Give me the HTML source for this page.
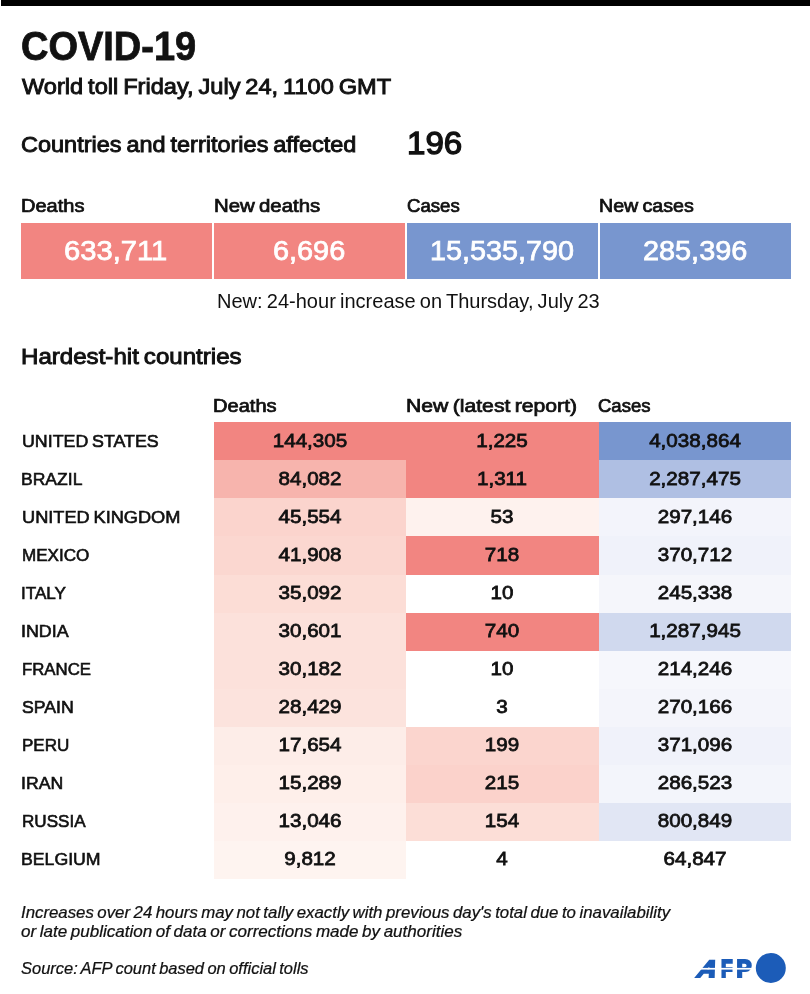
<!DOCTYPE html>
<html lang="en"><head><meta charset="utf-8"><title>COVID-19 World toll</title>
<style>
html,body{margin:0;padding:0;background:#fff}
body{width:810px;height:994px;position:relative;overflow:hidden;font-family:"Liberation Sans",sans-serif}
.t{position:absolute;white-space:nowrap;transform-origin:0 0;margin:0;padding:0}
.c{transform-origin:50% 0}
.b{position:absolute}
</style></head><body>
<div class="b" style="left:1px;top:0;width:809px;height:5.9px;background:#000"></div>
<div class="b" style="left:21.2px;top:223px;width:190.8px;height:55.5px;background:#f28581"></div>
<div class="b" style="left:214.1px;top:223px;width:190.5px;height:55.5px;background:#f28581"></div>
<div class="b" style="left:406.9px;top:223px;width:190.7px;height:55.5px;background:#7896cf"></div>
<div class="b" style="left:599.7px;top:223px;width:191.5px;height:55.5px;background:#7896cf"></div>
<div class="b" style="left:213.6px;top:422.40px;width:192.4px;height:38.08px;background:#f28581"></div>
<div class="b" style="left:406.0px;top:422.40px;width:192.5px;height:38.08px;background:#f28581"></div>
<div class="b" style="left:598.5px;top:422.40px;width:192.7px;height:38.08px;background:#7896cf"></div>
<div class="b" style="left:213.6px;top:460.43px;width:192.4px;height:38.08px;background:#f7b4ad"></div>
<div class="b" style="left:406.0px;top:460.43px;width:192.5px;height:38.08px;background:#f28581"></div>
<div class="b" style="left:598.5px;top:460.43px;width:192.7px;height:38.08px;background:#afbfe3"></div>
<div class="b" style="left:213.6px;top:498.46px;width:192.4px;height:38.08px;background:#fbd4cd"></div>
<div class="b" style="left:406.0px;top:498.46px;width:192.5px;height:38.08px;background:#fef2ee"></div>
<div class="b" style="left:598.5px;top:498.46px;width:192.7px;height:38.08px;background:#f3f4fb"></div>
<div class="b" style="left:213.6px;top:536.49px;width:192.4px;height:38.08px;background:#fbd7d0"></div>
<div class="b" style="left:406.0px;top:536.49px;width:192.5px;height:38.08px;background:#f28581"></div>
<div class="b" style="left:598.5px;top:536.49px;width:192.7px;height:38.08px;background:#f0f2fa"></div>
<div class="b" style="left:213.6px;top:574.52px;width:192.4px;height:38.08px;background:#fcddd6"></div>
<div class="b" style="left:598.5px;top:574.52px;width:192.7px;height:38.08px;background:#f5f6fb"></div>
<div class="b" style="left:213.6px;top:612.55px;width:192.4px;height:38.08px;background:#fce1db"></div>
<div class="b" style="left:406.0px;top:612.55px;width:192.5px;height:38.08px;background:#f28581"></div>
<div class="b" style="left:598.5px;top:612.55px;width:192.7px;height:38.08px;background:#d0d9ee"></div>
<div class="b" style="left:213.6px;top:650.58px;width:192.4px;height:38.08px;background:#fce1db"></div>
<div class="b" style="left:598.5px;top:650.58px;width:192.7px;height:38.08px;background:#f6f7fc"></div>
<div class="b" style="left:213.6px;top:688.61px;width:192.4px;height:38.08px;background:#fce3dd"></div>
<div class="b" style="left:598.5px;top:688.61px;width:192.7px;height:38.08px;background:#f4f5fb"></div>
<div class="b" style="left:213.6px;top:726.64px;width:192.4px;height:38.08px;background:#fdede8"></div>
<div class="b" style="left:406.0px;top:726.64px;width:192.5px;height:38.08px;background:#fbd5ce"></div>
<div class="b" style="left:598.5px;top:726.64px;width:192.7px;height:38.08px;background:#f0f2fa"></div>
<div class="b" style="left:213.6px;top:764.67px;width:192.4px;height:38.08px;background:#feefea"></div>
<div class="b" style="left:406.0px;top:764.67px;width:192.5px;height:38.08px;background:#fbd2cb"></div>
<div class="b" style="left:598.5px;top:764.67px;width:192.7px;height:38.08px;background:#f3f5fb"></div>
<div class="b" style="left:213.6px;top:802.70px;width:192.4px;height:38.08px;background:#fef1ed"></div>
<div class="b" style="left:406.0px;top:802.70px;width:192.5px;height:38.08px;background:#fcded7"></div>
<div class="b" style="left:598.5px;top:802.70px;width:192.7px;height:38.08px;background:#e1e6f4"></div>
<div class="b" style="left:213.6px;top:840.73px;width:192.4px;height:38.08px;background:#fef4f0"></div>
<div class="t" style="font-size:41.38px;line-height:41.38px;top:26px;color:#111;font-weight:bold;-webkit-text-stroke:0.83px #111;left:21.13px;transform:scaleX(0.9177);">COVID-19</div>
<div class="t" style="font-size:21.67px;line-height:21.67px;top:76px;color:#111;-webkit-text-stroke:0.89px #111;word-spacing:-1.52px;left:21.69px;transform:scaleX(1.0900);">World toll Friday, July 24, 1100 GMT</div>
<div class="t" style="font-size:21.81px;line-height:21.81px;top:134px;color:#111;-webkit-text-stroke:0.89px #111;word-spacing:-1.53px;left:20.77px;transform:scaleX(1.0777);">Countries and territories affected</div>
<div class="t" style="font-size:32.24px;line-height:32.24px;top:127px;color:#111;-webkit-text-stroke:1.32px #111;left:406.88px;transform:scaleX(1.0259);">196</div>
<div class="t" style="font-size:17.83px;line-height:17.83px;top:198px;color:#111;-webkit-text-stroke:0.73px #111;left:21.00px;transform:scaleX(1.1222);">Deaths</div>
<div class="t" style="font-size:17.83px;line-height:17.83px;top:198px;color:#111;-webkit-text-stroke:0.73px #111;word-spacing:-1.25px;left:214.16px;transform:scaleX(1.1429);">New deaths</div>
<div class="t" style="font-size:17.83px;line-height:17.83px;top:198px;color:#111;-webkit-text-stroke:0.73px #111;left:406.53px;transform:scaleX(1.0440);">Cases</div>
<div class="t" style="font-size:17.83px;line-height:17.83px;top:198px;color:#111;-webkit-text-stroke:0.73px #111;word-spacing:-1.25px;left:599.32px;transform:scaleX(1.1019);">New cases</div>
<div class="t" style="font-size:26.96px;line-height:26.96px;top:238px;color:#fff;-webkit-text-stroke:0.75px #fff;left:64.42px;transform:scaleX(1.0814);">633,711</div>
<div class="t" style="font-size:26.96px;line-height:26.96px;top:238px;color:#fff;-webkit-text-stroke:0.75px #fff;left:273.25px;transform:scaleX(1.0701);">6,696</div>
<div class="t" style="font-size:26.96px;line-height:26.96px;top:238px;color:#fff;-webkit-text-stroke:0.75px #fff;left:429.87px;transform:scaleX(1.0673);">15,535,790</div>
<div class="t" style="font-size:26.96px;line-height:26.96px;top:238px;color:#fff;-webkit-text-stroke:0.75px #fff;left:642.94px;transform:scaleX(1.0701);">285,396</div>
<div class="t" style="font-size:20.06px;line-height:20.06px;top:291px;color:#111;word-spacing:-1.40px;left:216.94px;transform:scaleX(0.9989);">New: 24-hour increase on Thursday, July 23</div>
<div class="t" style="font-size:21.40px;line-height:21.40px;top:347px;color:#111;-webkit-text-stroke:0.88px #111;word-spacing:-1.50px;left:21.20px;transform:scaleX(1.1264);">Hardest-hit countries</div>
<div class="t" style="font-size:17.70px;line-height:17.70px;top:398px;color:#111;-webkit-text-stroke:0.73px #111;left:213.25px;transform:scaleX(1.1345);">Deaths</div>
<div class="t" style="font-size:17.70px;line-height:17.70px;top:398px;color:#111;-webkit-text-stroke:0.73px #111;word-spacing:-1.24px;left:405.53px;transform:scaleX(1.1963);">New (latest report)</div>
<div class="t" style="font-size:17.70px;line-height:17.70px;top:398px;color:#111;-webkit-text-stroke:0.73px #111;left:598.33px;transform:scaleX(1.0463);">Cases</div>
<div class="t" style="font-size:17.27px;line-height:17.27px;top:433px;color:#111;-webkit-text-stroke:0.62px #111;word-spacing:-1.21px;left:21.68px;transform:scaleX(1.0322);">UNITED STATES</div>
<div class="t c" style="font-size:18.66px;line-height:18.66px;top:432px;color:#111;-webkit-text-stroke:0.76px #111;left:309.8px;width:200px;margin-left:-100px;text-align:center;transform:scaleX(1.1054);">144,305</div>
<div class="t c" style="font-size:18.66px;line-height:18.66px;top:432px;color:#111;-webkit-text-stroke:0.76px #111;left:502.2px;width:200px;margin-left:-100px;text-align:center;transform:scaleX(1.1054);">1,225</div>
<div class="t c" style="font-size:18.66px;line-height:18.66px;top:432px;color:#111;-webkit-text-stroke:0.76px #111;left:694.9px;width:200px;margin-left:-100px;text-align:center;transform:scaleX(1.1054);">4,038,864</div>
<div class="t" style="font-size:17.27px;line-height:17.27px;top:471px;color:#111;-webkit-text-stroke:0.62px #111;left:21.47px;transform:scaleX(1.0156);">BRAZIL</div>
<div class="t c" style="font-size:18.66px;line-height:18.66px;top:470px;color:#111;-webkit-text-stroke:0.76px #111;left:309.8px;width:200px;margin-left:-100px;text-align:center;transform:scaleX(1.1054);">84,082</div>
<div class="t c" style="font-size:18.66px;line-height:18.66px;top:470px;color:#111;-webkit-text-stroke:0.76px #111;left:502.2px;width:200px;margin-left:-100px;text-align:center;transform:scaleX(1.1054);">1,311</div>
<div class="t c" style="font-size:18.66px;line-height:18.66px;top:470px;color:#111;-webkit-text-stroke:0.76px #111;left:694.9px;width:200px;margin-left:-100px;text-align:center;transform:scaleX(1.1054);">2,287,475</div>
<div class="t" style="font-size:17.27px;line-height:17.27px;top:509px;color:#111;-webkit-text-stroke:0.62px #111;word-spacing:-1.21px;left:21.65px;transform:scaleX(1.0538);">UNITED KINGDOM</div>
<div class="t c" style="font-size:18.66px;line-height:18.66px;top:508px;color:#111;-webkit-text-stroke:0.76px #111;left:309.8px;width:200px;margin-left:-100px;text-align:center;transform:scaleX(1.1054);">45,554</div>
<div class="t c" style="font-size:18.66px;line-height:18.66px;top:508px;color:#111;-webkit-text-stroke:0.76px #111;left:502.2px;width:200px;margin-left:-100px;text-align:center;transform:scaleX(1.1054);">53</div>
<div class="t c" style="font-size:18.66px;line-height:18.66px;top:508px;color:#111;-webkit-text-stroke:0.76px #111;left:694.9px;width:200px;margin-left:-100px;text-align:center;transform:scaleX(1.1054);">297,146</div>
<div class="t" style="font-size:17.27px;line-height:17.27px;top:547px;color:#111;-webkit-text-stroke:0.62px #111;left:21.53px;transform:scaleX(0.9874);">MEXICO</div>
<div class="t c" style="font-size:18.66px;line-height:18.66px;top:546px;color:#111;-webkit-text-stroke:0.76px #111;left:309.8px;width:200px;margin-left:-100px;text-align:center;transform:scaleX(1.1054);">41,908</div>
<div class="t c" style="font-size:18.66px;line-height:18.66px;top:546px;color:#111;-webkit-text-stroke:0.76px #111;left:502.2px;width:200px;margin-left:-100px;text-align:center;transform:scaleX(1.1054);">718</div>
<div class="t c" style="font-size:18.66px;line-height:18.66px;top:546px;color:#111;-webkit-text-stroke:0.76px #111;left:694.9px;width:200px;margin-left:-100px;text-align:center;transform:scaleX(1.1054);">370,712</div>
<div class="t" style="font-size:17.27px;line-height:17.27px;top:585px;color:#111;-webkit-text-stroke:0.62px #111;left:21.08px;transform:scaleX(0.9915);">ITALY</div>
<div class="t c" style="font-size:18.66px;line-height:18.66px;top:584px;color:#111;-webkit-text-stroke:0.76px #111;left:309.8px;width:200px;margin-left:-100px;text-align:center;transform:scaleX(1.1054);">35,092</div>
<div class="t c" style="font-size:18.66px;line-height:18.66px;top:584px;color:#111;-webkit-text-stroke:0.76px #111;left:502.2px;width:200px;margin-left:-100px;text-align:center;transform:scaleX(1.1054);">10</div>
<div class="t c" style="font-size:18.66px;line-height:18.66px;top:584px;color:#111;-webkit-text-stroke:0.76px #111;left:694.9px;width:200px;margin-left:-100px;text-align:center;transform:scaleX(1.1054);">245,338</div>
<div class="t" style="font-size:17.27px;line-height:17.27px;top:623px;color:#111;-webkit-text-stroke:0.62px #111;left:20.96px;transform:scaleX(1.0352);">INDIA</div>
<div class="t c" style="font-size:18.66px;line-height:18.66px;top:622px;color:#111;-webkit-text-stroke:0.76px #111;left:309.8px;width:200px;margin-left:-100px;text-align:center;transform:scaleX(1.1054);">30,601</div>
<div class="t c" style="font-size:18.66px;line-height:18.66px;top:622px;color:#111;-webkit-text-stroke:0.76px #111;left:502.2px;width:200px;margin-left:-100px;text-align:center;transform:scaleX(1.1054);">740</div>
<div class="t c" style="font-size:18.66px;line-height:18.66px;top:622px;color:#111;-webkit-text-stroke:0.76px #111;left:694.9px;width:200px;margin-left:-100px;text-align:center;transform:scaleX(1.1054);">1,287,945</div>
<div class="t" style="font-size:17.27px;line-height:17.27px;top:661px;color:#111;-webkit-text-stroke:0.62px #111;left:21.57px;transform:scaleX(0.9716);">FRANCE</div>
<div class="t c" style="font-size:18.66px;line-height:18.66px;top:660px;color:#111;-webkit-text-stroke:0.76px #111;left:309.8px;width:200px;margin-left:-100px;text-align:center;transform:scaleX(1.1054);">30,182</div>
<div class="t c" style="font-size:18.66px;line-height:18.66px;top:660px;color:#111;-webkit-text-stroke:0.76px #111;left:502.2px;width:200px;margin-left:-100px;text-align:center;transform:scaleX(1.1054);">10</div>
<div class="t c" style="font-size:18.66px;line-height:18.66px;top:660px;color:#111;-webkit-text-stroke:0.76px #111;left:694.9px;width:200px;margin-left:-100px;text-align:center;transform:scaleX(1.1054);">214,246</div>
<div class="t" style="font-size:17.27px;line-height:17.27px;top:699px;color:#111;-webkit-text-stroke:0.62px #111;left:21.61px;transform:scaleX(1.0242);">SPAIN</div>
<div class="t c" style="font-size:18.66px;line-height:18.66px;top:698px;color:#111;-webkit-text-stroke:0.76px #111;left:309.8px;width:200px;margin-left:-100px;text-align:center;transform:scaleX(1.1054);">28,429</div>
<div class="t c" style="font-size:18.66px;line-height:18.66px;top:698px;color:#111;-webkit-text-stroke:0.76px #111;left:502.2px;width:200px;margin-left:-100px;text-align:center;transform:scaleX(1.1054);">3</div>
<div class="t c" style="font-size:18.66px;line-height:18.66px;top:698px;color:#111;-webkit-text-stroke:0.76px #111;left:694.9px;width:200px;margin-left:-100px;text-align:center;transform:scaleX(1.1054);">270,166</div>
<div class="t" style="font-size:17.27px;line-height:17.27px;top:737px;color:#111;-webkit-text-stroke:0.62px #111;left:21.54px;transform:scaleX(0.9871);">PERU</div>
<div class="t c" style="font-size:18.66px;line-height:18.66px;top:736px;color:#111;-webkit-text-stroke:0.76px #111;left:309.8px;width:200px;margin-left:-100px;text-align:center;transform:scaleX(1.1054);">17,654</div>
<div class="t c" style="font-size:18.66px;line-height:18.66px;top:736px;color:#111;-webkit-text-stroke:0.76px #111;left:502.2px;width:200px;margin-left:-100px;text-align:center;transform:scaleX(1.1054);">199</div>
<div class="t c" style="font-size:18.66px;line-height:18.66px;top:736px;color:#111;-webkit-text-stroke:0.76px #111;left:694.9px;width:200px;margin-left:-100px;text-align:center;transform:scaleX(1.1054);">371,096</div>
<div class="t" style="font-size:17.27px;line-height:17.27px;top:775px;color:#111;-webkit-text-stroke:0.62px #111;left:20.98px;transform:scaleX(1.0224);">IRAN</div>
<div class="t c" style="font-size:18.66px;line-height:18.66px;top:774px;color:#111;-webkit-text-stroke:0.76px #111;left:309.8px;width:200px;margin-left:-100px;text-align:center;transform:scaleX(1.1054);">15,289</div>
<div class="t c" style="font-size:18.66px;line-height:18.66px;top:774px;color:#111;-webkit-text-stroke:0.76px #111;left:502.2px;width:200px;margin-left:-100px;text-align:center;transform:scaleX(1.1054);">215</div>
<div class="t c" style="font-size:18.66px;line-height:18.66px;top:774px;color:#111;-webkit-text-stroke:0.76px #111;left:694.9px;width:200px;margin-left:-100px;text-align:center;transform:scaleX(1.1054);">286,523</div>
<div class="t" style="font-size:17.27px;line-height:17.27px;top:813px;color:#111;-webkit-text-stroke:0.62px #111;left:21.53px;transform:scaleX(0.9885);">RUSSIA</div>
<div class="t c" style="font-size:18.66px;line-height:18.66px;top:812px;color:#111;-webkit-text-stroke:0.76px #111;left:309.8px;width:200px;margin-left:-100px;text-align:center;transform:scaleX(1.1054);">13,046</div>
<div class="t c" style="font-size:18.66px;line-height:18.66px;top:812px;color:#111;-webkit-text-stroke:0.76px #111;left:502.2px;width:200px;margin-left:-100px;text-align:center;transform:scaleX(1.1054);">154</div>
<div class="t c" style="font-size:18.66px;line-height:18.66px;top:812px;color:#111;-webkit-text-stroke:0.76px #111;left:694.9px;width:200px;margin-left:-100px;text-align:center;transform:scaleX(1.1054);">800,849</div>
<div class="t" style="font-size:17.27px;line-height:17.27px;top:851px;color:#111;-webkit-text-stroke:0.62px #111;left:21.43px;transform:scaleX(1.0243);">BELGIUM</div>
<div class="t c" style="font-size:18.66px;line-height:18.66px;top:850px;color:#111;-webkit-text-stroke:0.76px #111;left:309.8px;width:200px;margin-left:-100px;text-align:center;transform:scaleX(1.1054);">9,812</div>
<div class="t c" style="font-size:18.66px;line-height:18.66px;top:850px;color:#111;-webkit-text-stroke:0.76px #111;left:502.2px;width:200px;margin-left:-100px;text-align:center;transform:scaleX(1.1054);">4</div>
<div class="t c" style="font-size:18.66px;line-height:18.66px;top:850px;color:#111;-webkit-text-stroke:0.76px #111;left:694.9px;width:200px;margin-left:-100px;text-align:center;transform:scaleX(1.1054);">64,847</div>
<div class="t" style="font-size:16.81px;line-height:16.81px;top:905px;color:#111;-webkit-text-stroke:0.24px #111;font-style:italic;word-spacing:-1.18px;left:20.86px;transform:scaleX(1.0007);">Increases over 24 hours may not tally exactly with previous day&#39;s total due to inavailability</div>
<div class="t" style="font-size:16.81px;line-height:16.81px;top:924px;color:#111;-webkit-text-stroke:0.24px #111;font-style:italic;word-spacing:-1.18px;left:20.50px;transform:scaleX(1.0151);">or late publication of data or corrections made by authorities</div>
<div class="t" style="font-size:16.95px;line-height:16.95px;top:961px;color:#111;-webkit-text-stroke:0.24px #111;font-style:italic;word-spacing:-1.19px;left:21.30px;transform:scaleX(0.9725);">Source: AFP count based on official tolls</div>
<svg class="b" style="left:685px;top:945px" width="125" height="49" viewBox="685 945 125 49">
<circle cx="770.8" cy="968" r="15" fill="#1c5cb8"/>
<g font-family="Liberation Sans, sans-serif" font-weight="bold" font-size="23.8" fill="#1c5cb8" stroke="#1c5cb8" stroke-width="2.0" stroke-linejoin="miter">
<text transform="translate(695.6 977) skewX(-23.0) scale(1.090 1)">A</text><text transform="translate(721.0 977) scale(0.800 1)">F</text><text transform="translate(736.6 977) scale(0.950 1)">P</text>
</g>
<rect x="690" y="967.9" width="64" height="1.7" fill="#fff"/>
</svg>
</body></html>
